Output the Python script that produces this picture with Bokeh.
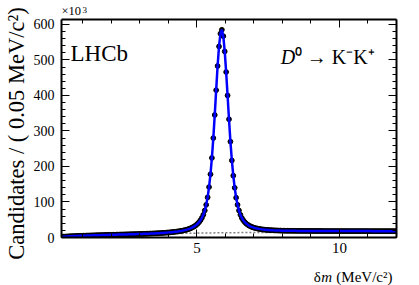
import numpy as np
from math import pi
from bokeh.plotting import figure
from bokeh.models import (ColumnDataSource, Label, LinearAxis, FixedTicker,
                          SingleIntervalTicker, Range1d)
from bokeh.layouts import row, column
from bokeh.core.properties import value
from bokeh.embed import file_html
from bokeh.resources import INLINE

# ---------------- data (candidates per 0.05 MeV/c^2, in units of 10^3) -------------
bin_lo = 0.25
bin_w = 0.05
counts = [
    2.0, 2.3, 2.6, 2.8, 3.1, 3.3, 3.5, 3.7, 3.9, 4.1,
    4.2, 4.4, 4.6, 4.7, 4.9, 5.0, 5.2, 5.3, 5.5, 5.6,
    5.7, 5.9, 6.0, 6.1, 6.3, 6.4, 6.5, 6.6, 6.8, 6.9,
    7.0, 7.1, 7.2, 7.4, 7.5, 7.6, 7.7, 7.8, 7.9, 8.1,
    8.2, 8.3, 8.4, 8.5, 8.6, 8.8, 8.9, 9.0, 9.1, 9.2,
    9.4, 9.5, 9.6, 9.7, 9.9, 10.0, 10.1, 10.3, 10.4, 10.6,
    10.7, 10.9, 11.0, 11.2, 11.4, 11.6, 11.8, 12.0, 12.2, 12.5,
    12.7, 13.0, 13.3, 13.6, 13.9,
    14.3, 14.7, 15.1, 15.5, 16.0, 16.5, 17.0, 17.6, 18.3, 19.0,
    19.8, 20.7, 21.7, 22.8, 24.3, 25.9, 27.7, 29.8, 32.2, 35.2,
    38.8, 43.2, 48.6, 55.4, 64.0,
    76, 92, 113, 142, 178, 224, 280, 345, 415, 483,
    538, 574, 585, 567, 524, 466, 400, 333, 270, 217,
    174, 140, 112, 92, 76,
    64.0, 55.0, 48.5, 43.5, 39.5, 36.3, 33.7, 31.6, 29.8, 28.3,
    27.0, 26.0, 25.1, 24.3, 23.6, 23.0, 22.5, 22.0, 21.6, 21.3,
    21.0, 20.7, 20.5, 20.2, 20.0, 19.8, 19.7, 19.5, 19.4, 19.2,
    19.1, 19.0, 19.0, 18.9, 18.9, 18.8, 18.8, 18.7, 18.7, 18.7,
    18.6, 18.6, 18.6, 18.5, 18.5, 18.5, 18.5, 18.4, 18.4, 18.4,
    18.4, 18.4, 18.3, 18.3, 18.3, 18.3, 18.3, 18.3, 18.2, 18.2,
    18.2, 18.2, 18.2, 18.2, 18.2, 18.2, 18.1, 18.1, 18.1, 18.1,
    18.1, 18.1, 18.1, 18.1, 18.1, 18.1, 18.1, 18.0, 18.0, 18.0,
    18.0, 18.0, 18.0, 18.0, 18.0, 18.0, 18.0, 18.0, 18.0, 18.0,
    18.0, 18.0, 17.9, 18.0, 17.9, 17.9, 18.0, 17.9, 17.9, 17.9,
    17.9, 17.9, 17.9, 17.9, 17.9, 17.9, 17.9, 17.9, 17.9, 17.9,
]
bkg_x = [0.25, 0.5, 1, 1.5, 2, 2.5, 3, 3.5, 4, 4.5, 5, 6, 7, 8, 10, 12]
bkg_y = [1.0, 2.0, 4.0, 5.5, 6.8, 7.9, 8.9, 9.8, 10.7, 11.6, 12.4, 13.4, 14.1, 14.7, 15.4, 15.9]
x_ticks = [5, 10]
x_minor = [1, 2, 3, 4, 5, 6, 7, 8, 9, 10, 11, 12]
y_ticks = [0, 100, 200, 300, 400, 500, 600]

y_title = "Candidates / ( 0.05 MeV/c\u00b2)"
x_title_parts = ["\u03b4", "m", "(MeV/c\u00b2)"]
exp_parts = ["\u00d710", "3"]
lhcb_text = "LHCb"
decay_parts = ["D", "\u2070 \u2192 K\u207bK\u207a"]

centers = bin_lo + bin_w * (np.arange(len(counts)) + 0.5)
src = ColumnDataSource(dict(x=centers, y=counts))

SERIF = "Liberation Serif"

# ---------------- layout constants (page pixels) ----------------
LEFT_W = 30          # y-title strip: page x 0..30
COL_W = 389          # page x 30..419
TOP_H = 18           # page y 0..18
MAIN_H = 242         # page y 18..260
BOT_H = 25           # page y 260..285
TOTAL_H = TOP_H + MAIN_H + BOT_H
BL, BR, BT, BB = 30, 23, 1, 23
XR = (0.25, 12.0)
YR = (0.0, 614.0)
FW = COL_W - BL - BR
FH = MAIN_H - BT - BB


def dx(px):
    return XR[0] + (px - LEFT_W - BL) * (XR[1] - XR[0]) / FW


def dy(py):
    return YR[1] - (py - TOP_H - BT) * (YR[1] - YR[0]) / FH


def strip(w, h, xr, bl=0, br=0):
    f = figure(width=w, height=h, x_range=Range1d(*xr), y_range=Range1d(0, h),
               output_backend="svg", toolbar_location=None, title=None,
               x_axis_type=None, y_axis_type=None,
               min_border_left=bl, min_border_right=br,
               min_border_top=0, min_border_bottom=0)
    f.outline_line_color = None
    f.xgrid.visible = False
    f.ygrid.visible = False
    f.border_fill_color = "white"
    f.background_fill_color = "white"
    return f


# ---------------- main plot ----------------
p = figure(width=COL_W, height=MAIN_H, x_range=Range1d(*XR), y_range=Range1d(*YR),
           output_backend="svg", toolbar_location=None, title=None,
           min_border_left=BL, min_border_right=BR,
           min_border_top=BT, min_border_bottom=BB)
p.xgrid.visible = False
p.ygrid.visible = False
p.outline_line_color = None
p.background_fill_color = "white"
p.border_fill_color = "white"


def style_axis(ax, fs, labels=True):
    ax.axis_line_width = 2
    ax.axis_line_color = "black"
    ax.major_tick_in = 8
    ax.major_tick_out = 0
    ax.minor_tick_in = 4
    ax.minor_tick_out = 0
    ax.major_tick_line_width = 1
    ax.minor_tick_line_width = 1
    ax.major_label_text_font = SERIF
    ax.major_label_text_color = "black"
    ax.major_label_text_font_size = fs
    if not labels:
        ax.major_label_standoff = 0


p.xaxis.ticker = FixedTicker(ticks=x_ticks, minor_ticks=x_minor)
p.yaxis.ticker = SingleIntervalTicker(interval=100, num_minor_ticks=5)
style_axis(p.xaxis[0], "15px")
style_axis(p.yaxis[0], "14px")
p.xaxis.major_label_standoff = 5
p.yaxis.major_label_standoff = 7

top = LinearAxis(ticker=FixedTicker(ticks=x_ticks, minor_ticks=x_minor),
                 major_label_overrides={t: "" for t in x_ticks})
style_axis(top, "1px", labels=False)
p.add_layout(top, "above")
right = LinearAxis(ticker=SingleIntervalTicker(interval=100, num_minor_ticks=5),
                   major_label_overrides={t: "" for t in y_ticks})
style_axis(right, "1px", labels=False)
p.add_layout(right, "right")

p.line(bkg_x, bkg_y, line_color="#808080", line_width=1.5, line_dash="2 2")
p.scatter("x", "y", source=src, size=4.8, color="black")
p.line("x", "y", source=src, line_color="#0000ff", line_width=2.5)


def lab(x, y, text, size, style="normal", align="left"):
    p.add_layout(Label(x=x, y=y, text=text, text_font=SERIF, text_font_size=size,
                       text_font_style=style, text_align=align,
                       text_baseline="alphabetic", text_color="black"))


lab(dx(69), dy(53), lhcb_text, "23px")
lab(dx(280), dy(56), decay_parts[0], "20px", style="italic")
lab(dx(294), dy(56), decay_parts[1], "20px")

# ---------------- text strips ----------------
left = strip(LEFT_W, TOTAL_H, (0, LEFT_W))
left.text(x=[16], y=[TOTAL_H - 133], text=[y_title], angle=pi / 2,
          text_font=value(SERIF), text_font_size="22.5px", text_align="center",
          text_baseline="middle", text_color="black")

topf = strip(COL_W, TOP_H, XR, BL, BR)
topf.text(x=[dx(60)], y=[0.3], text=[exp_parts[0]], text_font=value(SERIF),
          text_font_size="12.5px", text_align="left", text_baseline="bottom",
          text_color="black")
topf.text(x=[dx(81)], y=[TOP_H - 9], text=[exp_parts[1]], text_font=value(SERIF),
          text_font_size="9px", text_align="left", text_baseline="alphabetic",
          text_color="black")

bot = strip(COL_W, BOT_H, XR, BL, BR)
by = BOT_H - (276 - (TOP_H + MAIN_H))
bot.text(x=[dx(313)], y=[by], text=[x_title_parts[0]], text_font=value(SERIF),
         text_font_size="15px", text_align="left", text_baseline="alphabetic",
         text_color="black")
bot.text(x=[dx(320.5)], y=[by], text=[x_title_parts[1]], text_font=value(SERIF),
         text_font_size="15px", text_font_style="italic", text_align="left",
         text_baseline="alphabetic", text_color="black")
bot.text(x=[dx(392)], y=[by], text=[x_title_parts[2]], text_font=value(SERIF),
         text_font_size="15px", text_align="right", text_baseline="alphabetic",
         text_color="black")

layout = row(left, column(topf, p, bot, spacing=0), spacing=0)
open("out.html", "w").write(file_html(layout, INLINE))
